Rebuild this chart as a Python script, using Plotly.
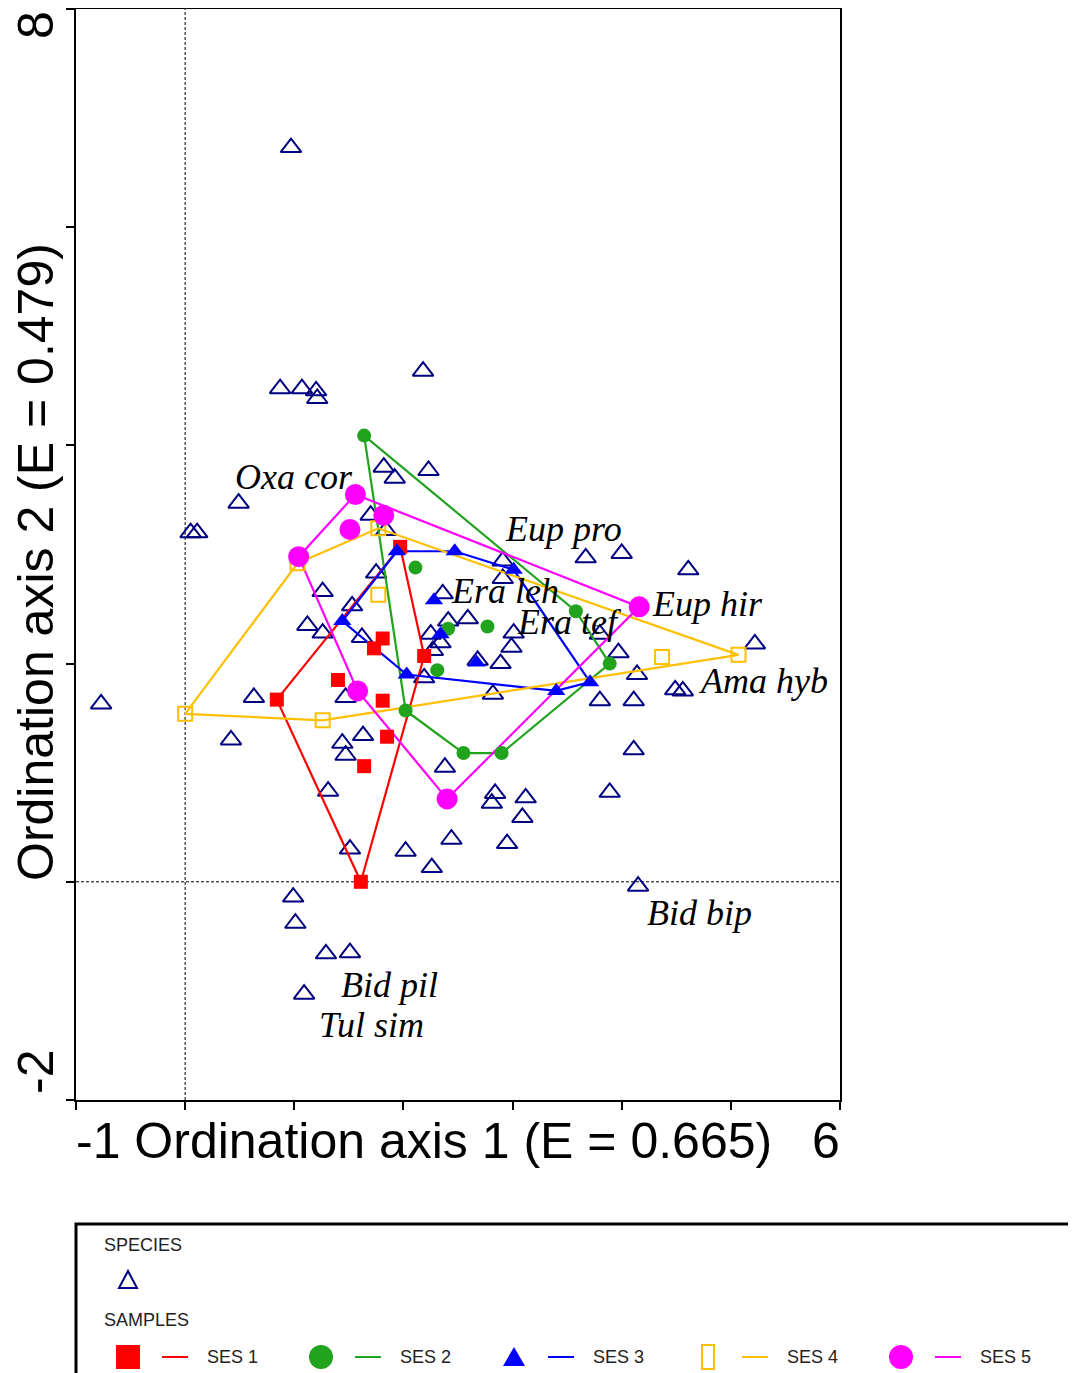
import plotly.graph_objects as go

# ── Data (ordination scores) ─────────────────────────────────────────────────
species_x = [0.97, 0.87, 1.07, 1.20, 1.21, 2.18, 1.82, 1.92, 2.23, 0.49,
             0.05, 0.11, 1.70, 1.84, 1.26, 1.75, 1.53, 1.12, 1.26, 1.62,
             2.36, 2.41, 2.59, 2.25, 2.34, 2.27, 2.19, 0.63, 1.47, 0.42,
             1.63, 1.44, 1.47, 1.31, 1.51, 2.02, 2.26, 2.44, 2.38, 2.84,
             2.81, 3.12, 3.09, 2.95, 2.82, 2.68, 2.89, 2.99, 3.01, 2.91,
             2.91, 3.67, 4.00, 4.61, 5.22, 3.80, 3.97, 4.14, 3.80, 4.11,
             4.49, 4.56, 4.11, 3.89, 4.15, 0.99, 1.01, 1.29, 1.51, 1.09,
             -0.77]
species_y = [6.73, 4.52, 4.52, 4.50, 4.43, 4.68, 3.80, 3.70, 3.77, 3.47,
             3.20, 3.20, 3.36, 3.22, 2.66, 2.83, 2.53, 2.35, 2.28, 2.24,
             2.64, 2.39, 2.41, 2.27, 2.19, 2.12, 1.87, 1.69, 1.69, 1.30,
             1.34, 1.27, 1.16, 0.83, 0.30, 0.28, 0.13, 0.39, 1.05, 0.81,
             0.72, 0.77, 0.59, 0.35, 1.72, 2.03, 2.00, 2.15, 2.28, 2.94,
             2.78, 2.97, 3.01, 2.86, 2.18, 2.27, 2.10, 1.90, 1.66, 1.66,
             1.76, 1.75, 1.21, 0.82, -0.04, -0.14, -0.38, -0.66, -0.65, -1.03,
             1.63]

label_text = ["Oxa cor", "Eup pro", "Era leh", "Era tef", "Eup hir",
              "Ama hyb", "Bid bip", "Bid pil", "Tul sim"]
label_x = [0.44, 2.91, 2.42, 3.02, 4.26, 4.69, 4.21, 1.41, 1.21]
label_y = [3.71, 3.23, 2.67, 2.38, 2.55, 1.84, -0.29, -0.95, -1.31]

# samples; hull = order of the envelope vertices
ses1_x = [0.84, 1.97, 2.19, 1.61, 1.81, 1.73, 1.40, 1.81, 1.85, 1.64]
ses1_y = [1.67, 3.07, 2.07, 0.00, 2.23, 2.14, 1.85, 1.66, 1.33, 1.06]
ses1_hull = [0, 1, 2, 3, 0]

ses2_x = [1.64, 3.58, 3.89, 2.90, 2.55, 2.02, 2.11, 2.41, 2.77, 2.31]
ses2_y = [4.09, 2.48, 2.00, 1.18, 1.18, 1.57, 2.88, 2.32, 2.34, 1.94]
ses2_hull = [0, 1, 2, 3, 4, 5, 0]

ses3_x = [1.94, 2.47, 3.01, 3.71, 3.40, 2.03, 1.44, 2.28, 2.34, 2.67]
ses3_y = [3.03, 3.03, 2.86, 1.83, 1.75, 1.90, 2.39, 2.58, 2.27, 2.01]
ses3_hull = [0, 1, 2, 3, 4, 5, 6, 0]

ses4_x = [0.00, 1.03, 1.77, 5.07, 1.26, 1.77, 4.37]
ses4_y = [1.54, 2.92, 3.24, 2.08, 1.48, 2.63, 2.06]
ses4_hull = [0, 1, 2, 3, 4, 0]

ses5_x = [1.04, 1.56, 4.16, 2.40, 1.58, 1.82, 1.51]
ses5_y = [2.98, 3.55, 2.52, 0.76, 1.75, 3.36, 3.23]
ses5_hull = [0, 1, 2, 3, 4, 0]

# ── Styles ───────────────────────────────────────────────────────────────────
NAVY = '#000080'
groups = [
    ('SES 1', ses1_x, ses1_y, ses1_hull, '#ff0000', 'square', 14),
    ('SES 2', ses2_x, ses2_y, ses2_hull, '#22a31e', 'circle', 14),
    ('SES 3', ses3_x, ses3_y, ses3_hull, '#0000ff', 'triangle-up', 16),
    ('SES 4', ses4_x, ses4_y, ses4_hull, '#ffbf00', 'square-open', 14),
    ('SES 5', ses5_x, ses5_y, ses5_hull, '#ff00ff', 'circle', 21),
]

# page has an 8px body margin, so the figure starts at page pixel 8
OFF = 8
W, H = 1076 - OFF, 1373 - OFF
def fx(p):  # page pixel -> paper (margins are zero)
    return (p - OFF) / W
def fy(p):
    return 1 - (p - OFF) / H

fig = go.Figure()

# species
fig.add_trace(go.Scatter(
    x=species_x, y=species_y, mode='markers', name='SPECIES',
    marker=dict(symbol='triangle-up-open', size=18, color=NAVY,
                line=dict(color=NAVY, width=2)),
    showlegend=False,
))

# sample envelopes + points
for name, xs, ys, hull, col, sym, sz in groups:
    fig.add_trace(go.Scatter(
        x=[xs[i] for i in hull], y=[ys[i] for i in hull],
        mode='lines', line=dict(color=col, width=2.2),
        showlegend=False, hoverinfo='skip',
    ))
for name, xs, ys, hull, col, sym, sz in groups:
    fig.add_trace(go.Scatter(
        x=xs, y=ys, mode='markers', name=name,
        marker=dict(symbol=sym, size=sz, color=col,
                    line=dict(color=col, width=2 if 'open' in sym else 0)),
        showlegend=False,
    ))

# species labels
for t, lx, ly in zip(label_text, label_x, label_y):
    fig.add_annotation(x=lx, y=ly, text=f"<i>{t}</i>", showarrow=False,
                       xanchor='left', yanchor='middle',
                       font=dict(family='Liberation Serif', size=36, color='black'))

# dotted origin lines
fig.add_shape(type='line', x0=0, x1=0, y0=0, y1=1, xref='x', yref='y domain',
              line=dict(color='black', width=1, dash='3px,2px'), layer='below')
fig.add_shape(type='line', x0=0, x1=1, y0=0, y1=0, xref='x domain', yref='y',
              line=dict(color='black', width=1, dash='3px,2px'), layer='below')

# axis texts
big = dict(family='Liberation Sans', size=50, color='black')
fig.add_annotation(x=fx(74), y=fy(1141), xref='paper', yref='paper',
                   text='-1 Ordination axis 1 (E = 0.665)', showarrow=False,
                   xanchor='left', yanchor='middle', font=big)
fig.add_annotation(x=fx(842), y=fy(1141), xref='paper', yref='paper',
                   text='6', showarrow=False, xanchor='right', yanchor='middle', font=big)
fig.add_annotation(x=fx(36), y=fy(562), xref='paper', yref='paper',
                   text='Ordination axis 2 (E = 0.479)', showarrow=False, textangle=-90,
                   xanchor='center', yanchor='middle', font=big)
fig.add_annotation(x=fx(36), y=fy(25), xref='paper', yref='paper',
                   text='8', showarrow=False, textangle=-90,
                   xanchor='center', yanchor='middle', font=big)
fig.add_annotation(x=fx(36), y=fy(1072), xref='paper', yref='paper',
                   text='-2', showarrow=False, textangle=-90,
                   xanchor='center', yanchor='middle', font=big)

# ── Legend box (drawn by hand) ───────────────────────────────────────────────
small = dict(family='Liberation Sans', size=18, color='#222222')
fig.add_shape(type='rect', xref='paper', yref='paper',
              x0=fx(76), x1=fx(1110), y0=fy(1224), y1=fy(1400),
              line=dict(color='black', width=3))
fig.add_annotation(x=fx(102), y=fy(1245), xref='paper', yref='paper', text='SPECIES',
                   showarrow=False, xanchor='left', yanchor='middle', font=small)
fig.add_annotation(x=fx(102), y=fy(1320), xref='paper', yref='paper', text='SAMPLES',
                   showarrow=False, xanchor='left', yanchor='middle', font=small)
fig.add_shape(type='path', xref='paper', yref='paper',
              path=f"M {fx(119)},{fy(1288)} L {fx(137)},{fy(1288)} L {fx(128)},{fy(1271)} Z",
              line=dict(color=NAVY, width=2))

leg_x = [128, 321, 514, 708, 901]
cy = 1357
for (name, xs, ys, hull, col, sym, sz), cx in zip(groups, leg_x):
    if sym == 'square':
        fig.add_shape(type='rect', xref='paper', yref='paper',
                      x0=fx(cx - 12), x1=fx(cx + 12), y0=fy(cy - 12), y1=fy(cy + 12),
                      fillcolor=col, line=dict(width=0))
    elif sym == 'circle':
        fig.add_shape(type='circle', xref='paper', yref='paper',
                      x0=fx(cx - 12), x1=fx(cx + 12), y0=fy(cy - 12), y1=fy(cy + 12),
                      fillcolor=col, line=dict(width=0))
    elif sym == 'triangle-up':
        fig.add_shape(type='path', xref='paper', yref='paper',
                      path=f"M {fx(cx - 11)},{fy(cy + 9)} L {fx(cx + 11)},{fy(cy + 9)} "
                           f"L {fx(cx)},{fy(cy - 10)} Z",
                      fillcolor=col, line=dict(width=0))
    else:
        fig.add_shape(type='rect', xref='paper', yref='paper',
                      x0=fx(cx - 6), x1=fx(cx + 6), y0=fy(cy - 12), y1=fy(cy + 12),
                      line=dict(color=col, width=2))
    fig.add_shape(type='line', xref='paper', yref='paper',
                  x0=fx(cx + 34), x1=fx(cx + 60), y0=fy(cy), y1=fy(cy),
                  line=dict(color=col, width=2))
    fig.add_annotation(x=fx(cx + 77), y=fy(cy), xref='paper', yref='paper', text=name,
                       showarrow=False, xanchor='left', yanchor='middle', font=small)

axis_common = dict(showgrid=False, zeroline=False, showline=True, linecolor='black',
                   linewidth=2, mirror=True, ticks='outside', ticklen=8, tickwidth=2,
                   tickcolor='black', showticklabels=False)
fig.update_layout(
    width=W, height=H,
    margin=dict(l=0, r=0, t=0, b=0, autoexpand=False),
    paper_bgcolor='white', plot_bgcolor='white',
    xaxis=dict(domain=[fx(76), fx(840)], range=[-1, 6],
               tickvals=[-1, 0, 1, 2, 3, 4, 5, 6], **axis_common),
    yaxis=dict(domain=[fy(1100), fy(9)], range=[-2, 8],
               tickvals=[-2, 0, 2, 4, 6, 8], **axis_common),
    showlegend=False,
)

fig.write_html("out.html")
